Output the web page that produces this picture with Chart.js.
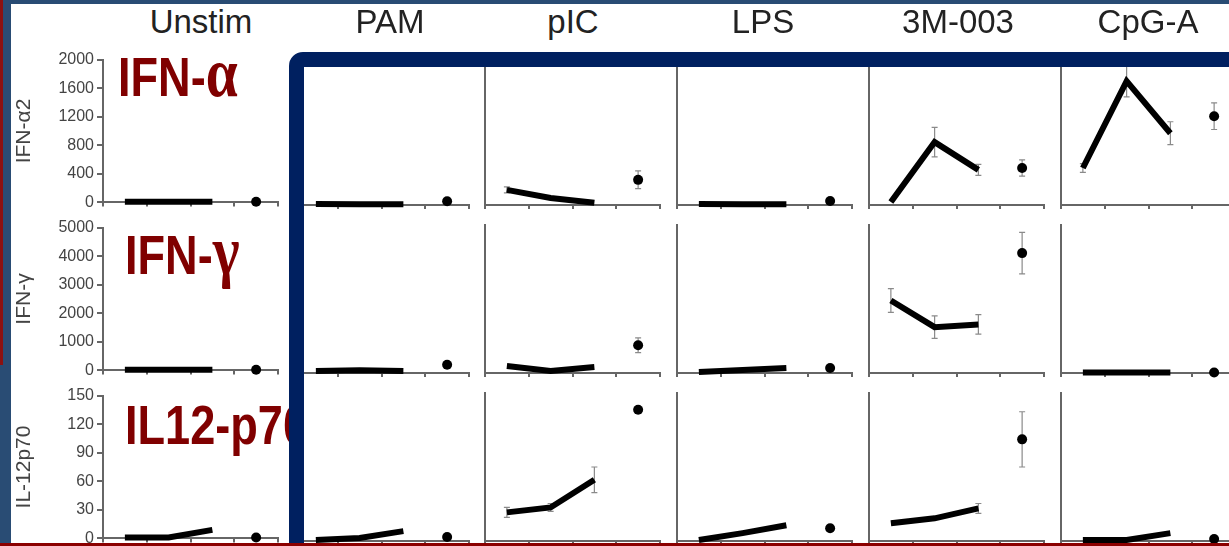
<!DOCTYPE html>
<html>
<head>
<meta charset="utf-8">
<script src="https://cdn.jsdelivr.net/npm/chart.js@4.4.0/dist/chart.umd.min.js"></script>
<style>
    html, body { margin: 0; padding: 0; }
    body {
        width: 1229px; height: 546px; overflow: hidden; position: relative;
        background: #294c74;
        font-family: "Liberation Sans", Arial, sans-serif;
    }
    #redStrip { position: absolute; left: 0; top: 0; width: 3px; height: 365px; background: #8b1111; }
    #sheet { position: absolute; left: 11px; top: 4px; width: 1218px; height: 542px; background: #fff; }
    #plots { position: absolute; left: 0; top: 0; width: 1229px; height: 546px; z-index: 1; }
    #plots canvas { position: absolute; }
    .colTitle {
        position: absolute; top: 5px; font-size: 33px; line-height: 34px;
        color: #222; transform: translateX(-50%); white-space: nowrap; z-index: 2;
    }
    #labelClip { position: absolute; left: 0; top: 0; width: 289px; height: 546px; overflow: hidden; z-index: 3; }
    .big {
        position: absolute; font-weight: bold; font-size: 55px; line-height: 55px;
        color: #800000; transform: scaleX(.82); transform-origin: 0 0; white-space: nowrap;
    }
    .greek { font-family: "Liberation Serif", serif; font-size: 70px; line-height: 0; }
    #frame {
        position: absolute; left: 289px; top: 52px; width: 1000px; height: 600px;
        box-sizing: border-box; border: 15px solid #002060; border-top-left-radius: 14px; z-index: 4;
    }
    #bottomBar { position: absolute; left: 0; top: 543px; width: 1229px; height: 3px; background: #8b0000; z-index: 5; }
</style>
</head>
<body>
<div id="redStrip"></div>
<div id="sheet"></div>
<div id="plots"></div>
<div id="labelClip">
    <div class="big" style="left:118px; top:50px;">IFN-<span class="greek">α</span></div>
    <div class="big" style="left:125px; top:228px;">IFN-<span class="greek">γ</span></div>
    <div class="big" style="left:125px; top:398px;">IL12-p70</div>
</div>
<div id="frame"></div>
<div id="bottomBar"></div>

<script>
    "use strict";

    // data
    const stimuli = ["Unstim", "PAM", "pIC", "LPS", "3M-003", "CpG-A"];
    const cytokines = ["IFN-α2", "IFN-γ", "IL-12p70"];
    const xCategories = ["1", "2", "3", "4"];
    const yMax = [2000, 5000, 150];
    const yStep = [400, 1000, 30];

    // IFN-a2 (one entry per stimulus)
    const ifnaLine = [[10, 10, 10], [12, 10, 10], [205, 95, 30], [12, 10, 10], [40, 850, 475], [500, 1675, 970]];
    const ifnaLineErr = [[0, 0, 0], [0, 0, 0], [40, 0, 0], [0, 0, 0], [0, 200, 75], [60, 215, 155]];
    const ifnaDot = [10, 50, 340, 55, 500, 1200];
    const ifnaDotErr = [0, 0, 120, 0, 110, 180];

    // IFN-g
    const ifngLine = [[20, 20, 20], [70, 90, 70], [235, 67, 200], [33, 100, 170], [2450, 1550, 1640], [15, 15, 15]];
    const ifngLineErr = [[0, 0, 0], [0, 0, 0], [0, 0, 0], [0, 0, 0], [400, 380, 330], [0, 0, 0]];
    const ifngDot = [20, 280, 940, 170, 4050, 15];
    const ifngDotErr = [0, 0, 250, 40, 700, 0];

    // IL-12p70
    const il12Line = [[1, 1, 9], [1, 3, 10], [29, 34, 62], [1, 8, 16], [18, 23, 33], [1, 1, 8]];
    const il12LineErr = [[0, 0, 0], [0, 0, 0], [5, 4, 13], [0, 0, 0], [0, 0, 5], [0, 0, 0]];
    const il12Dot = [1, 4, 133, 13, 103, 2];
    const il12DotErr = [0, 0, 0, 3, 28, 0];

    const rows = [
        { line: ifnaLine, lineErr: ifnaLineErr, dot: ifnaDot, dotErr: ifnaDotErr },
        { line: ifngLine, lineErr: ifngLineErr, dot: ifngDot, dotErr: ifngDotErr },
        { line: il12Line, lineErr: il12LineErr, dot: il12Dot, dotErr: il12DotErr },
    ];

    // layout
    const colAxisX = [103, 294, 485, 677, 869, 1061];
    const titleX = [201, 390, 573, 763, 958, 1148];
    const rowTop = [57, 225, 393];
    const plotW = 176;
    const plotH = 148;
    const yAxisW = 100;
    const padTop = 10, padRight = 4, padBottom = 4, xAxisH = 6;
    const axisColor = "#666";

    // Error bars, drawn under the lines
    const errorBars = {
        id: "errorBars",
        beforeDatasetsDraw(chart) {
            const { ctx, scales: { x, y } } = chart;
            ctx.save();
            ctx.strokeStyle = "#8a8a8a";
            ctx.lineWidth = 1.2;
            chart.data.datasets.forEach((ds) => {
                ds.errors.forEach((e, i) => {
                    const v = ds.data[i];
                    if (v == null || !e) return;
                    const px = x.getPixelForValue(i);
                    const top = y.getPixelForValue(v + e);
                    const bot = y.getPixelForValue(Math.max(0, v - e));
                    ctx.beginPath();
                    ctx.moveTo(px, top); ctx.lineTo(px, bot);
                    ctx.moveTo(px - 3, top); ctx.lineTo(px + 3, top);
                    ctx.moveTo(px - 3, bot); ctx.lineTo(px + 3, bot);
                    ctx.stroke();
                });
            });
            ctx.restore();
        },
    };

    // column titles
    stimuli.forEach((name, c) => {
        const el = document.createElement("div");
        el.className = "colTitle";
        el.style.left = titleX[c] + "px";
        el.textContent = name;
        document.body.appendChild(el);
    });

    const plots = document.getElementById("plots");

    rows.forEach((row, r) => {
        stimuli.forEach((stim, c) => {
            const canvas = document.createElement("canvas");
            canvas.width = yAxisW + plotW + padRight;
            canvas.height = padTop + plotH + xAxisH + padBottom;
            canvas.style.left = (colAxisX[c] - yAxisW) + "px";
            canvas.style.top = (rowTop[r] - padTop) + "px";
            plots.appendChild(canvas);

            const first = c === 0;

            new Chart(canvas, {
                type: "line",
                data: {
                    labels: xCategories,
                    datasets: [
                        {
                            data: [...row.line[c], null],
                            errors: [...row.lineErr[c], 0],
                            borderColor: "#000",
                            borderWidth: 6,
                            borderCapStyle: "butt",
                            borderJoinStyle: "miter",
                            pointRadius: 0,
                            tension: 0,
                            clip: false,
                        },
                        {
                            data: [null, null, null, row.dot[c]],
                            errors: [0, 0, 0, row.dotErr[c]],
                            showLine: false,
                            pointRadius: 5,
                            pointBackgroundColor: "#000",
                            pointBorderWidth: 0,
                            clip: false,
                        },
                    ],
                },
                options: {
                    responsive: false,
                    animation: false,
                    events: [],
                    layout: { padding: { top: padTop, right: padRight, bottom: padBottom, left: 0 } },
                    plugins: { legend: { display: false }, tooltip: { enabled: false } },
                    scales: {
                        x: {
                            offset: true,
                            grid: {
                                offset: true,
                                drawOnChartArea: false,
                                drawTicks: true,
                                tickLength: 4,
                                color: axisColor,
                                lineWidth: 2,
                            },
                            border: { color: axisColor, width: 2 },
                            ticks: { display: false },
                            afterFit(scale) { scale.height = xAxisH; },
                        },
                        y: {
                            min: 0,
                            max: yMax[r],
                            ticks: {
                                display: first,
                                stepSize: yStep[r],
                                padding: 3,
                                color: "#444",
                                font: { family: "Liberation Sans", size: 16 },
                                callback: (v) => String(v),
                            },
                            grid: {
                                drawOnChartArea: false,
                                drawTicks: first,
                                tickLength: 6,
                                color: axisColor,
                                lineWidth: 2,
                            },
                            border: { color: axisColor, width: 2 },
                            title: {
                                display: first,
                                text: cytokines[r],
                                color: "#444",
                                padding: { top: 9, bottom: 0 },
                                font: { family: "Liberation Sans", size: 21 },
                            },
                            afterFit(scale) { scale.width = yAxisW; },
                        },
                    },
                },
                plugins: [errorBars],
            });
        });
    });
</script>
</body>
</html>
